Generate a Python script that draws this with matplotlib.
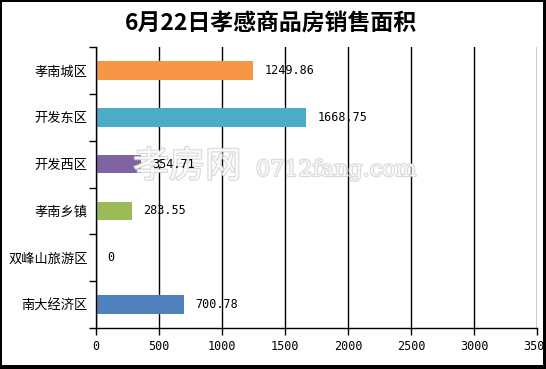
import matplotlib.pyplot as plt
import matplotlib.patheffects as pe
from matplotlib.patches import Rectangle
import numpy as np

plt.rcParams['font.family'] = ['Noto Sans CJK SC', 'DejaVu Sans']

# data (top to bottom)
districts = ['孝南城区', '开发东区', '开发西区', '孝南乡镇', '双峰山旅游区', '南大经济区']
areas = [1249.86, 1668.75, 354.71, 283.55, 0, 700.78]
bar_colors = ['#F79646', '#4BACC6', '#8064A2', '#9BBB59', '#C0504D', '#4F81BD']
x_ticks = [0, 500, 1000, 1500, 2000, 2500, 3000, 3500]

W, H = 546, 369
fig = plt.figure(figsize=(W / 100, H / 100), dpi=100)
fig.patch.set_facecolor('white')
ax = fig.add_axes([96 / W, 1 - 328 / H, (537 - 96) / W, (328 - 47) / H])

y = np.arange(len(districts))
ax.barh(y, areas, height=0.4, color=bar_colors, zorder=2)

# value labels to the right of each bar
for yi, v in zip(y, areas):
    ax.text(v + 90, yi, f'{v:g}' if v == 0 else f'{v:.2f}', va='center', ha='left',
            fontsize=8.5, family='DejaVu Sans Mono', zorder=4)

ax.set_xlim(0, 3500)
ax.set_ylim(len(districts) - 0.5, -0.5)
ax.set_xticks(x_ticks)
ax.set_xticklabels([str(t) for t in x_ticks], family='DejaVu Sans Mono', fontsize=8.5)
ax.set_yticks(y)
ax.set_yticklabels(districts, fontsize=9.5)
ax.set_yticks(np.arange(len(districts) + 1) - 0.5, minor=True)
ax.tick_params(axis='y', which='major', length=0, pad=6)
ax.tick_params(axis='y', which='minor', length=5, width=1, direction='out')
ax.tick_params(axis='x', length=5, width=1, direction='out', pad=4)

ax.grid(axis='x', color='black', linewidth=1, zorder=1)
ax.set_axisbelow(True)
for s in ['top', 'right']:
    ax.spines[s].set_visible(False)
for s in ['left', 'bottom']:
    ax.spines[s].set_linewidth(1)

fig.text(271 / W, 1 - 23 / H, '6月22日孝感商品房销售面积', ha='center', va='center',
         fontsize=16.5, fontweight='bold')

# site watermark, between the bars and the value labels
wm = [pe.withStroke(linewidth=1.5, foreground='#cfcfcf')]
ax.text(133 / W, 1 - 167 / H, '孝房网', ha='left', va='center', fontsize=26,
        color='white', alpha=0.8, path_effects=wm, zorder=3,
        transform=fig.transFigure, clip_on=False)
ax.text(256 / W, 1 - 170 / H, '0712fang.com', ha='left', va='center', fontsize=16,
        family='DejaVu Serif', color='white', alpha=0.8, path_effects=wm, zorder=3,
        transform=fig.transFigure, clip_on=False)

# outer frame
for x0, y0, w, h in [(0, 0, 2, H), (0, H - 2, W, 2), (543, 0, 3, H), (0, 0, W, 4)]:
    fig.add_artist(Rectangle((x0 / W, y0 / H), w / W, h / H, transform=fig.transFigure,
                             facecolor='black', edgecolor='none', zorder=10))

fig.savefig('out.png', dpi=100)
